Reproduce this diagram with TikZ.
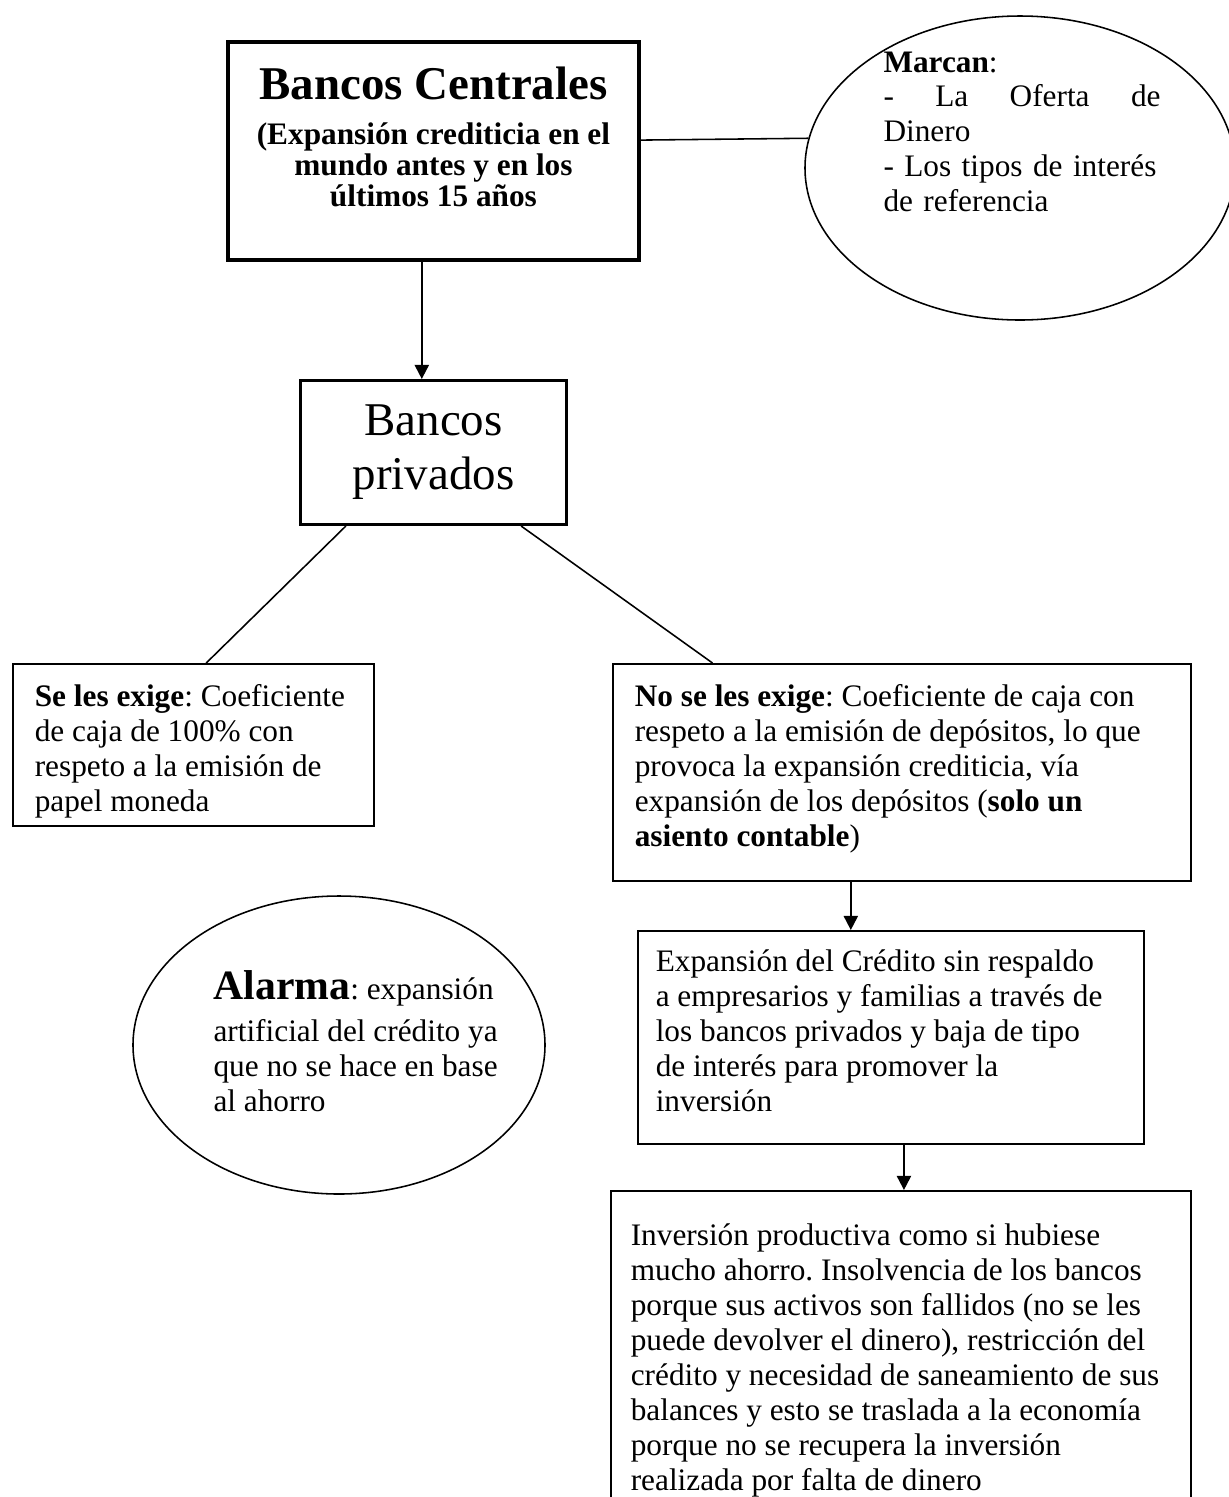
\documentclass[tikz,border=0pt]{standalone}
\usepackage{fontspec}
\setmainfont{Liberation Serif}
\usetikzlibrary{shapes.geometric,arrows.meta}

\frenchspacing
\hyphenpenalty=10000

\newcommand{\pxl}{0.3834pt}
\newlength\pxlen
\setlength\pxlen{0.3834pt}
% width, height, left margin, first baseline, text
\newcommand{\bloque}[5]{%
  \parbox[c][#2\pxlen][t]{#1\pxlen}{\raggedright\leftskip=#3\pxlen\relax
    \vspace*{\dimexpr #4\pxlen-\ht\strutbox\relax}\strut#5}}

\tikzset{
  caja/.style={draw, line width=0.6pt, inner sep=0pt, anchor=north west, font=\fontsize{12}{13.4}\selectfont},
  globo/.style={draw, ellipse, line width=0.6pt, inner sep=0pt},
  texto/.style={align=left, anchor=north west, inner sep=0pt, font=\fontsize{12}{13.4}\selectfont},
  flecha/.style={line width=0.75pt, -{Triangle[length=5.4pt,width=5.4pt]}},
  linea/.style={line width=0.6pt},
}

\begin{document}
\begin{tikzpicture}[x=\pxl, y=-\pxl]
		\useasboundingbox (0,0) rectangle (1229,1497);
		\clip (0,0) rectangle (1229,1497);

		% central banks
		\node[draw, line width=1.5pt, inner sep=0pt, anchor=north west, font=\fontsize{12}{11.9}\selectfont\bfseries] (cb) at (226,40) {\parbox[c][218\pxlen][t]{411\pxlen}{\centering\vspace*{25\pxlen}{\fontsize{18}{21}\selectfont Bancos Centrales}\\[5.3pt](Expansión crediticia en el\\mundo antes y en los\\últimos 15 años}};
		\node[globo, minimum width=430*\pxl, minimum height=304*\pxl] (marcan) at (1020,168) {};
		\node[texto, text width=277*\pxl] (marcantxt) at (883,51) {\textbf{Marcan}:\\-\hfill La\hfill Oferta\hfill de\\Dinero\\- Los tipos de interés\\de referencia};
		\draw[linea] (cb.3.3) -- (marcan.172);

		% private banks
		\node[draw, line width=1.15pt, align=center, anchor=north west, minimum width=266*\pxl, minimum height=144*\pxl, inner sep=0pt, font=\fontsize{18}{20.7}\selectfont] (bp) at (299,379) {Bancos\\privados};
		\draw[flecha] (cb.264.5) -- (cb.264.5 |- bp.north);

		% left branch
		\node[caja] (exige) at (12,663) {\bloque{361}{162}{22}{43}{\textbf{Se les exige}: Coeficiente\\de caja de 100\% con\\respeto a la emisión de\\papel moneda}};
		\draw[linea] (bp.220.3) -- (exige.81.2);

		% right branch
		\node[caja] (noexige) at (612,663) {\bloque{578}{217}{22}{43}{\textbf{No se les exige}: Coeficiente de caja con\\respeto a la emisión de depósitos, lo que\\provoca la expansión crediticia, vía\\expansión de los depósitos (\textbf{solo un}\\\textbf{asiento contable})}};
		\draw[linea] (bp.320) -- (noexige.150.7);

		\node[caja] (credito) at (637,930) {\bloque{506}{213}{18}{41}{Expansión del Crédito sin respaldo\\a empresarios y familias a través de\\los bancos privados y baja de tipo\\de interés para promover la\\inversión}};
		\draw[flecha] (noexige.245.3) -- (noexige.245.3 |- credito.north);

		\node[caja] (inversion) at (610,1190) {\bloque{580}{340}{20}{55}{Inversión productiva como si hubiese\\mucho ahorro. Insolvencia de los bancos\\porque sus activos son fallidos (no se les\\puede devolver el dinero), restricción del\\crédito y necesidad de saneamiento de sus\\balances y esto se traslada a la economía\\porque no se recupera la inversión\\realizada por falta de dinero}};
		\draw[flecha] (credito.277) -- (credito.277 |- inversion.north);

		% alarm
		\node[globo, minimum width=412*\pxl, minimum height=298*\pxl] (alarma) at (339,1045) {};
		\node[texto] (alarmatxt) at (213,970) {{\fontsize{16}{18}\selectfont\bfseries Alarma}: expansión\\[2.7pt]artificial del crédito ya\\que no se hace en base\\al ahorro};

	\end{tikzpicture}
\end{document}
